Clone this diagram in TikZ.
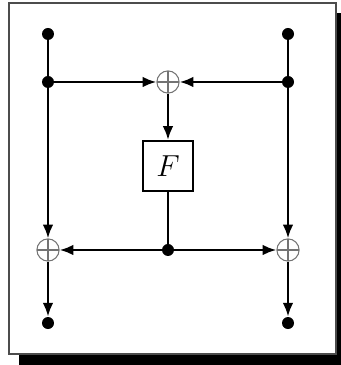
\documentclass[tikz,border=0pt]{standalone}
\usepackage{amsmath}
\usepackage{tikz}
\usetikzlibrary{arrows.meta}

\tikzset{
    dot/.style={circle, fill, inner sep=0, minimum size=0.2cm},
    xorgate/.style={circle, draw=black!55, line width=0.5pt, inner sep=0, minimum size=0.37cm,
        path picture={
            \draw[black!55, line width=0.5pt] (path picture bounding box.north) -- (path picture bounding box.south);
            \draw[black!55, line width=0.5pt] (path picture bounding box.west) -- (path picture bounding box.east);
        }},
    fbox/.style={draw, line width=1.1pt, minimum size=0.83cm, inner sep=0, font=\Large},
    wire/.style={line width=1.1pt},
    arr/.style={wire, -{Latex[length=6.5pt, width=5pt]}}
}

\begin{document}
\begin{tikzpicture}
\useasboundingbox (-0.8, -1.9167) rectangle (4.8667, 4.1667);

% Draw frame with shadow.
\fill[black] (-0.4833, -1.95) rectangle (4.9667, 3.95);
\filldraw[fill=white, draw=black!70, line width=0.7pt] (-0.65, -1.733) rectangle (4.8, 4.12);

% Draw inputs and branch points.
\node[dot] (ltop) at (0, 3.6) {};
\node[dot] (rtop) at (4, 3.6) {};
\node[dot] (lmid) at (0, 2.8) {};
\node[dot] (rmid) at (4, 2.8) {};

% Draw xor gates.
\node[xorgate] (xtop) at (2, 2.8) {};
\node[xorgate] (xl) at (0, 0) {};
\node[xorgate] (xr) at (4, 0) {};

% Draw round function.
\node[fbox] (F) at (2, 1.4) {$F$};
\node[dot] (fout) at (2, 0) {};

% Draw outputs.
\node[dot] (lbot) at (0, -1.217) {};
\node[dot] (rbot) at (4, -1.217) {};

% Draw wires.
\draw[wire] (ltop.center) -- (lmid.center);
\draw[wire] (rtop.center) -- (rmid.center);
\draw[arr] (lmid) -- (xtop);
\draw[arr] (rmid) -- (xtop);
\draw[arr] (xtop) -- (F);
\draw[wire] (F) -- (fout.center);
\draw[arr] (fout) -- (xl);
\draw[arr] (fout) -- (xr);
\draw[arr] (lmid) -- (xl);
\draw[arr] (rmid) -- (xr);
\draw[arr] (xl) -- (lbot);
\draw[arr] (xr) -- (rbot);

\end{tikzpicture}
\end{document}
